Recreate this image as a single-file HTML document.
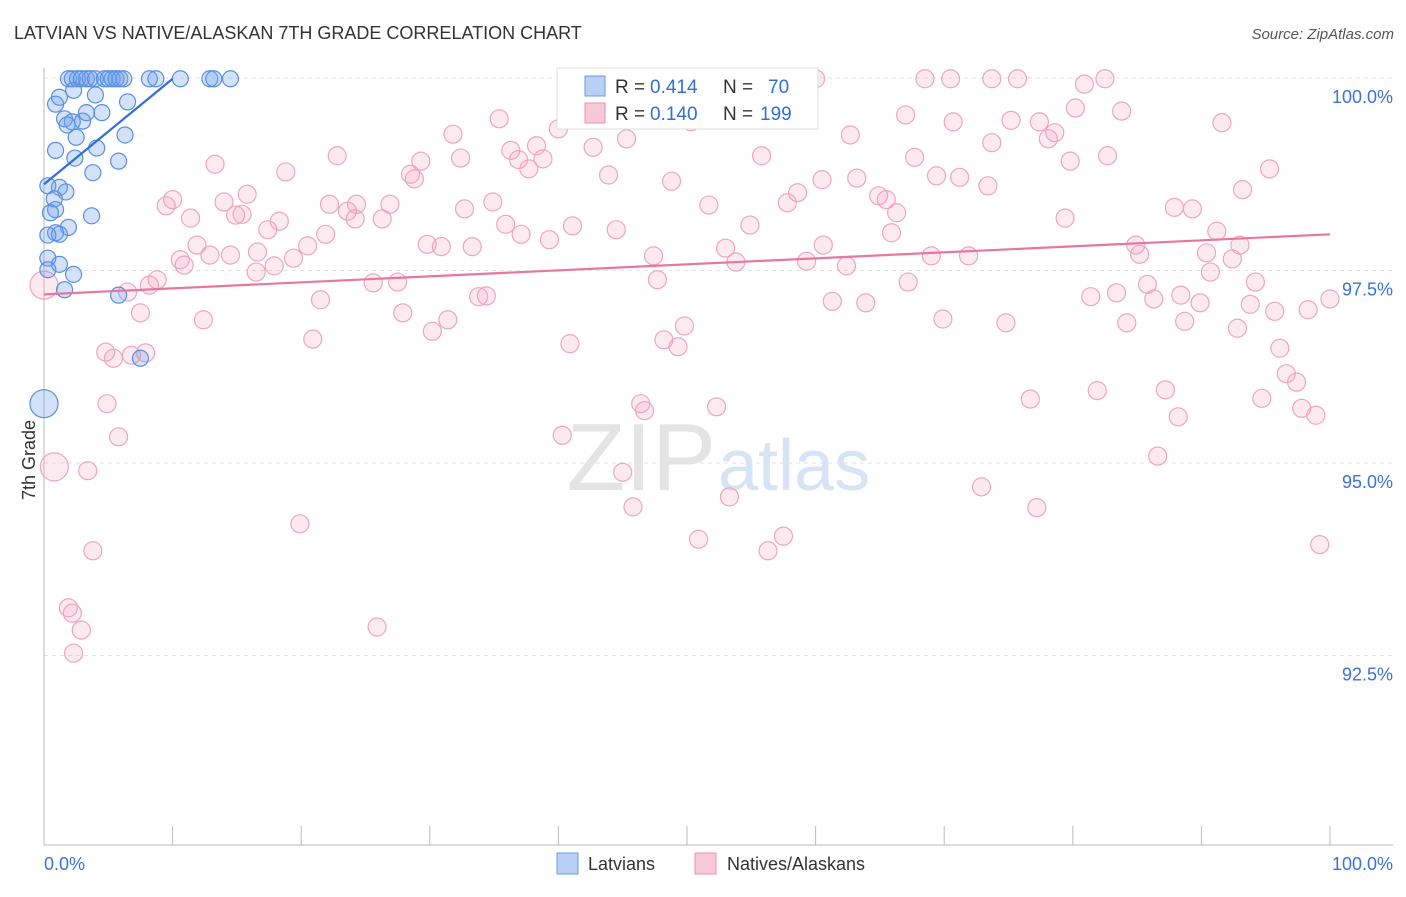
<!DOCTYPE html>
<html><head><meta charset="utf-8"><style>
body{margin:0;background:#fff;font-family:"Liberation Sans",sans-serif;}
svg text{font-family:"Liberation Sans",sans-serif;}
</style></head><body>
<svg id="chart" width="1406" height="892">
<text x="14" y="39" font-size="18" fill="#333">LATVIAN VS NATIVE/ALASKAN 7TH GRADE CORRELATION CHART</text>
<text x="1394" y="39" font-size="15" fill="#555" text-anchor="end" font-style="italic">Source: ZipAtlas.com</text>
<g id="grid"></g>
<text x="716" y="490" font-size="96" fill="#e4e4e4" text-anchor="end" font-family="Liberation Serif">ZIP</text>
<text x="718" y="490" font-size="72" fill="#d6e4f5">atlas</text>
<g id="pts"></g>
<g id="lines"></g>
<text x="35" y="460" font-size="18" fill="#333" text-anchor="middle" transform="rotate(-90 35 460)">7th Grade</text>
<g>
<rect x="557" y="68" width="261" height="61" fill="#fff" stroke="#ddd"/>
<rect x="585" y="76" width="20" height="20" fill="#b8d0f5" stroke="#6a9ae0"/>
<text y="93" font-size="19" fill="#333"><tspan x="615">R =</tspan><tspan x="650" fill="#2f6fd6">0.414</tspan><tspan x="723">N =</tspan><tspan x="768" fill="#2f6fd6">70</tspan></text>
<rect x="585" y="103" width="20" height="20" fill="#f8c8d8" stroke="#e890b0"/>
<text y="120" font-size="19" fill="#333"><tspan x="615">R =</tspan><tspan x="650" fill="#2f6fd6">0.140</tspan><tspan x="723">N =</tspan><tspan x="760" fill="#2f6fd6">199</tspan></text>
</g>
<g>
<rect x="557" y="853" width="21" height="21" fill="#b8d0f5" stroke="#6a9ae0"/>
<text x="588" y="870" font-size="18" fill="#333">Latvians</text>
<rect x="695" y="853" width="21" height="21" fill="#f8c8d8" stroke="#e890b0"/>
<text x="727" y="870" font-size="18" fill="#333">Natives/Alaskans</text>
</g>
</svg>
<script>
const yTicks=[100,97.5,95,92.5];
const yTickLabels=["100.0%","97.5%","95.0%","92.5%"];
const xTickCount=10;
const blueX=[1.9,2.2,2.6,2.9,3.3,3.6,4.0,4.7,5.0,5.3,5.6,5.9,6.2,8.2,8.7,10.6,12.9,13.2,14.5,1.2,2.3,4.0,6.5,0.9,1.6,2.2,3.0,4.5,3.3,1.8,2.5,6.3,0.9,4.1,2.4,5.8,3.8,1.2,0.3,1.7,0.8,0.9,3.7,0.5,1.9,0.9,1.2,0.3,0.3,1.2,2.3,0.3,1.6,5.8,7.5,0];
const blueY=[99.99,99.99,99.99,99.99,99.99,99.99,99.99,99.99,99.99,99.99,99.99,99.99,99.99,99.99,99.99,99.99,99.99,99.99,99.99,99.75,99.84,99.78,99.69,99.66,99.47,99.43,99.44,99.55,99.55,99.39,99.23,99.26,99.06,99.09,98.96,98.92,98.77,98.58,98.60,98.52,98.43,98.29,98.21,98.25,98.06,97.99,97.97,97.96,97.66,97.58,97.45,97.51,97.25,97.18,96.36,95.77];
const pinkX=[60.0,68.5,70.5,73.7,75.7,80.9,82.5,80.2,83.8,91.6,75.2,70.7,67.0,77.4,78.1,78.6,73.7,62.7,55.8,67.7,79.8,82.7,95.3,69.4,71.2,73.4,63.2,60.5,58.6,57.8,64.9,65.5,66.3,65.9,60.6,79.4,87.9,89.3,91.2,93.2,84.9,85.2,90.4,92.4,90.7,94.2,85.8,81.4,83.4,86.3,89.9,93.8,95.7,98.3,100,92.8,88.7,84.2,74.8,69.9,67.2,69.0,71.9,63.9,61.3,62.4,59.3,53.0,53.8,54.9,51.7,48.8,50.3,51.8,41.9,42.7,43.9,45.3,44.5,41.1,39.3,40.0,38.8,37.7,38.3,36.9,36.3,35.4,35.9,37.1,34.9,32.7,32.4,31.8,29.3,28.5,28.8,26.9,26.3,24.2,23.6,24.3,22.2,22.8,21.9,20.5,19.4,18.8,18.3,17.4,15.8,14.9,15.4,14.0,13.3,11.4,10.0,9.5,10.6,10.9,11.9,12.9,14.5,16.6,17.9,16.5,8.8,8.2,6.5,7.5,12.4,4.8,5.4,6.8,7.9,4.9,5.8,3.4,3.8,1.9,2.2,2.9,2.3,0.8,19.9,25.9,20.9,21.5,25.6,27.5,27.9,30.2,31.4,29.8,30.9,33.3,33.8,34.4,40.9,40.3,46.4,46.7,45.0,45.8,47.4,47.7,48.2,49.3,49.8,52.3,53.3,50.9,56.3,57.5,72.9,77.2,76.7,81.9,87.2,88.2,86.6,94.7,96.6,97.4,97.8,98.9,99.2,96.1,93.0,88.4,0];
const pinkY=[99.99,99.99,99.99,99.99,99.99,99.92,99.99,99.61,99.57,99.42,99.45,99.43,99.52,99.43,99.21,99.29,99.16,99.26,98.99,98.97,98.92,98.99,98.82,98.73,98.71,98.60,98.70,98.68,98.51,98.38,98.47,98.42,98.25,97.99,97.83,98.18,98.32,98.30,98.01,98.55,97.83,97.71,97.73,97.65,97.48,97.35,97.32,97.16,97.21,97.13,97.08,97.06,96.97,96.99,97.13,96.75,96.84,96.82,96.82,96.87,97.35,97.69,97.69,97.08,97.10,97.56,97.62,97.79,97.61,98.09,98.35,98.66,99.43,99.70,99.97,99.10,98.74,99.21,98.03,98.08,97.90,99.34,98.95,98.82,99.12,98.94,99.06,99.47,98.10,97.97,98.39,98.30,98.96,99.27,98.92,98.75,98.69,98.36,98.17,98.17,98.27,98.36,98.36,98.99,97.97,97.82,97.66,98.78,98.14,98.03,98.49,98.22,98.23,98.39,98.88,98.18,98.42,98.34,97.64,97.57,97.83,97.70,97.70,97.74,97.56,97.48,97.38,97.31,97.22,96.95,96.86,96.44,96.36,96.40,96.43,95.77,95.34,94.90,93.86,93.12,93.05,92.83,92.53,94.95,94.21,92.87,96.61,97.12,97.34,97.35,96.95,96.71,96.86,97.84,97.81,97.81,97.16,97.17,96.55,95.36,95.77,95.68,94.88,94.43,97.69,97.38,96.60,96.51,96.78,95.73,94.56,94.01,93.86,94.05,94.69,94.42,95.83,95.94,95.95,95.60,95.09,95.84,96.16,96.05,95.71,95.62,93.94,96.49,97.83,97.18,97.31];
const blueLine=[[0,98.62],[10,99.99]];
const pinkLine=[[0,97.19],[100,97.97]];
const NS="http://www.w3.org/2000/svg";
const X0=44,X1=1330,Y100=78,PX=77;
const sx=v=>X0+(X1-X0)*v/100;
const sy=v=>Y100+(100-v)*PX;
function mk(tag,attrs,parent){const e=document.createElementNS(NS,tag);for(const k in attrs)e.setAttribute(k,attrs[k]);parent.appendChild(e);return e;}
const grid=document.getElementById('grid');
yTicks.forEach((t,i)=>{
  const l=mk('line',{x1:X0,x2:1393,y1:sy(t),y2:sy(t),stroke:'#e2e2e2','stroke-dasharray':'4,4'},grid);
  
  
  const tx=mk('text',{x:1393,y:sy(t)+25,'font-size':18,fill:'#3a72d8','text-anchor':'end'},grid);
  tx.textContent=yTickLabels[i];
  
  
});
const ax=mk('line',{x1:X0,x2:X0,y1:68,y2:845,stroke:'#bbb'},grid);


const bx=mk('line',{x1:X0,x2:1393,y1:845,y2:845,stroke:'#bbb'},grid);


for(let i=0;i<=xTickCount;i++){
  const t=mk('line',{x1:sx(i*10),x2:sx(i*10),y1:826,y2:845,stroke:'#bbb'},grid);
  
  
}
const xl=mk('text',{x:44,y:870,'font-size':18,fill:'#3a72d8'},grid);xl.textContent='0.0%';


const xr=mk('text',{x:1393,y:870,'font-size':18,fill:'#3a72d8','text-anchor':'end'},grid);xr.textContent='100.0%';


const pts=document.getElementById('pts');
pinkX.forEach((v,i)=>{
  const big=(i===pinkX.length-1)||(v===0.8);
  const c=mk('circle',{cx:sx(v),cy:sy(pinkY[i]),r:big?14:9,fill:'rgba(244,160,190,0.22)',stroke:'#eea5bf','stroke-width':1.2},pts);
  
  
});
blueX.forEach((v,i)=>{
  const big=(i===blueX.length-1);
  const c=mk('circle',{cx:sx(v),cy:sy(blueY[i]),r:big?14:8,fill:'rgba(110,160,235,0.3)',stroke:'#5a8fe0','stroke-width':1.2},pts);
  
  
});
const lines=document.getElementById('lines');
const pl=mk('line',{x1:sx(pinkLine[0][0]),y1:sy(pinkLine[0][1]),x2:sx(pinkLine[1][0]),y2:sy(pinkLine[1][1]),stroke:'#e8769e','stroke-width':2.2},lines);


const bl=mk('line',{x1:sx(blueLine[0][0]),y1:sy(blueLine[0][1]),x2:sx(blueLine[1][0]),y2:sy(blueLine[1][1]),stroke:'#2f6fd6','stroke-width':2.2},lines);


</script>
</body></html>
